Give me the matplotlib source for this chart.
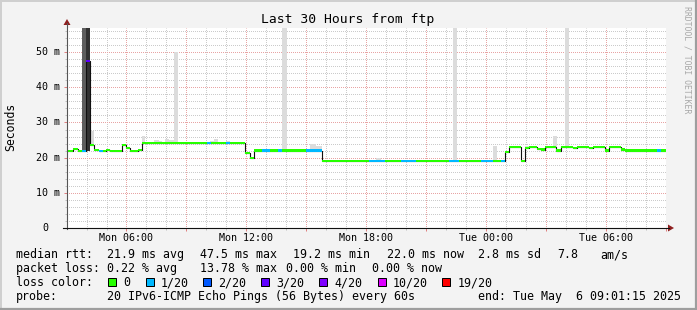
import numpy as np
import matplotlib
matplotlib.use('Agg')
import matplotlib.pyplot as plt
from matplotlib.lines import Line2D
from matplotlib.patches import Rectangle, Polygon
import matplotlib.transforms as mtrans

W, H = 697, 310
MONO = 'DejaVu Sans Mono'

# ---------------- data ----------------
# time axis: hours since Mon 00:00 (May 5 2025)
t_start = 3.0208   # Mon 03:01:15
t_end = 33.0208    # Tue 09:01:15

seg_start = [3.02, 3.32, 3.57, 3.77, 3.95, 4.15, 4.37, 4.60, 4.80, 4.97, 5.17, 5.77,
             5.97, 6.17, 6.57, 6.77, 10.02, 10.22, 10.97, 11.17, 11.95, 12.17, 12.37,
             12.77, 13.17, 13.57, 13.77, 14.97, 15.77, 18.17, 18.97, 19.77, 20.52,
             22.17, 22.67, 23.77, 24.37, 24.77, 24.97, 25.17, 25.77, 25.97, 26.17,
             26.57, 26.77, 26.97, 27.52, 27.77, 28.37, 28.57, 29.17, 29.37, 29.97,
             30.17, 30.77, 30.97, 32.57, 32.77]
seg_median = [21.8, 22.4, 21.8, 21.8, 47.5, 23.6, 22.2, 21.8, 21.8, 22.2, 21.8, 23.6,
              22.8, 21.8, 22.2, 24.2, 24.2, 24.2, 24.2, 24.2, 21.3, 19.9, 22.0,
              22.0, 22.0, 22.0, 22.0, 22.0, 19.1, 19.1, 19.1, 19.1, 19.1,
              19.1, 19.1, 19.1, 19.1, 19.1, 21.7, 23.0, 19.1, 22.8, 23.0,
              22.5, 22.3, 23.0, 22.0, 23.0, 22.7, 23.0, 22.7, 23.0, 22.0,
              23.0, 22.3, 22.0, 22.0, 22.0]
seg_loss = [0, 0, 0, 1, 3, 0, 0, 1, 0, 0, 0, 0,
            0, 0, 0, 0, 1, 0, 1, 0, 0, 0, 0,
            1, 0, 1, 0, 1, 0, 1, 0, 1, 0,
            1, 0, 1, 0, 1, 0, 0, 0, 0, 0,
            0, 0, 0, 0, 0, 0, 0, 0, 0, 0,
            0, 0, 0, 1, 0]

smoke_t0 = [3.77, 3.95, 4.15, 6.77, 7.37, 7.62, 7.92, 8.12, 8.37, 10.17, 10.37, 10.97,
            12.37, 13.77, 14.02, 15.17, 15.47, 18.52, 22.37, 24.37, 25.97, 27.37, 27.97]
smoke_t1 = [3.95, 4.15, 4.37, 6.92, 7.62, 7.77, 8.12, 8.37, 8.57, 10.37, 10.57, 11.17,
            12.77, 14.02, 14.32, 15.47, 15.77, 18.77, 22.57, 24.57, 26.17, 27.57, 28.17]
smoke_lo = [21.8, 21.8, 23.6, 24.2, 24.2, 24.2, 24.2, 24.2, 24.2, 24.2, 24.2, 24.2,
            22.0, 22.0, 22.0, 22.0, 22.0, 19.1, 19.1, 19.1, 22.8, 23.0, 23.0]
smoke_hi = [60.0, 60.0, 27.7, 26.1, 25.1, 24.8, 25.3, 25.0, 49.9, 24.8, 25.4, 24.8,
            22.5, 60.0, 22.5, 23.9, 23.4, 19.8, 60.0, 23.3, 23.3, 26.1, 60.0]
smoke_shade = ['#5e5e5e', '#323232', '#d9d9d9', '#dcdcdc', '#dcdcdc', '#dcdcdc',
               '#dcdcdc', '#dcdcdc', '#dcdcdc', '#dcdcdc', '#dcdcdc', '#dcdcdc',
               '#dcdcdc', '#dcdcdc', '#dcdcdc', '#dcdcdc', '#dcdcdc', '#dcdcdc',
               '#dcdcdc', '#dcdcdc', '#dcdcdc', '#dcdcdc', '#dcdcdc']

loss_levels = [0, 1, 2, 3, 4, 10, 19]
loss_labels = ['0', '1/20', '2/20', '3/20', '4/20', '10/20', '19/20']
loss_colors = ['#26ff00', '#00b8ff', '#0059ff', '#5e00ff', '#7e00ff', '#dd00ff', '#ff0000']

xtick_hours = [6, 12, 18, 24, 30]
xtick_labels = ['Mon 06:00', 'Mon 12:00', 'Mon 18:00', 'Tue 00:00', 'Tue 06:00']
ytick_vals = [0, 10, 20, 30, 40, 50]
ytick_labels = ['0', '10 m', '20 m', '30 m', '40 m', '50 m']

title = 'Last 30 Hours from ftp'
rtt_items = ['median rtt:', '21.9 ms avg', '47.5 ms max', '19.2 ms min', '22.0 ms now',
             '2.8 ms sd', '7.8', 'am/s']
loss_items = ['packet loss:', '0.22 % avg', '13.78 % max', '0.00 % min', '0.00 % now']
probe_items = ['probe:', '20 IPv6-ICMP Echo Pings (56 Bytes) every 60s',
               'end: Tue May  6 09:01:15 2025']

# ---------------- layout helpers ----------------
def fx(px):
    return px / W

def fy(py):
    return 1 - py / H

fig = plt.figure(figsize=(W / 100, H / 100), dpi=100, facecolor='#f3f3f3')

AX_L, AX_R, AX_T, AX_B = 67, 666, 27.5, 228
ax = fig.add_axes([fx(AX_L), fy(AX_B), (AX_R - AX_L) / W, (AX_B - AX_T) / H])
ax.set_facecolor('white')
ax.set_xlim(t_start, t_end)
ax.set_ylim(0, 57.0)
for s in ax.spines.values():
    s.set_visible(False)

# grid
ax.set_xticks(np.arange(6, 34, 3))
ax.set_xticks(np.arange(4, 34, 1), minor=True)
ax.set_yticks(np.arange(0, 60, 10))
ax.set_yticks(np.arange(0, 58, 2), minor=True)
ax.grid(which='major', color='#e8a4a4', lw=0.72, ls=(0.5, (1, 1)))
ax.grid(which='minor', color='#cbcbcb', lw=0.72, ls=(0.5, (1, 1)))
ax.set_axisbelow(True)
ax.tick_params(which='both', labelbottom=False, labelleft=False)
ax.tick_params(axis='x', which='major', direction='out', length=2.2, width=0.72, color='#e08080')
ax.tick_params(axis='x', which='minor', direction='out', length=1.5, width=0.72, color='#c0c0c0')
ax.tick_params(axis='y', which='major', direction='out', length=2.2, width=0.72, color='#e08080')
ax.tick_params(axis='y', which='minor', direction='out', length=1.5, width=0.72, color='#c0c0c0')

# smoke
for a, b, lo, hi, c in zip(smoke_t0, smoke_t1, smoke_lo, smoke_hi, smoke_shade):
    ax.fill_between([a, b], [lo, lo], [hi, hi], color=c, lw=0, zorder=2)

# median line (black step) and loss coloured bars
t_all = seg_start + [t_end]
m_all = seg_median + [seg_median[-1]]
ax.step(t_all, m_all, where='post', color='#101010', lw=0.8, zorder=3)
half = 0.33
color_of = dict(zip(loss_levels, loss_colors))
for i, (t0, m, L) in enumerate(zip(seg_start, seg_median, seg_loss)):
    t1 = t_all[i + 1]
    ax.fill_between([t0, t1], [m - half] * 2, [m + half] * 2, color=color_of[L], lw=0, zorder=4)

# axis lines & arrows
fig.add_artist(Line2D([fx(67), fx(67)], [fy(229), fy(23)], color='#555555', lw=0.8))
fig.add_artist(Line2D([fx(63), fx(669)], [fy(228), fy(228)], color='#111111', lw=0.8))
fig.add_artist(Polygon([[fx(67), fy(19)], [fx(63.5), fy(25)], [fx(70.5), fy(25)]],
                       closed=True, color='#8f1f1f', lw=0))
fig.add_artist(Polygon([[fx(674), fy(228)], [fx(668), fy(224.5)], [fx(668), fy(231.5)]],
                       closed=True, color='#8f1f1f', lw=0))

# tick labels
bx = mtrans.blended_transform_factory(ax.transData, fig.transFigure)
for h, lab in zip(xtick_hours, xtick_labels):
    fig.text(h, fy(238), lab, transform=bx, ha='center', va='center',
             family=MONO, fontsize=7.2)
by = mtrans.blended_transform_factory(fig.transFigure, ax.transData)
for v, lab in zip(ytick_vals, ytick_labels):
    xr = 48 if lab == '0' else 60
    fig.text(fx(xr), v, lab, transform=by, ha='right', va='center',
             family=MONO, fontsize=7.2)

# titles
fig.text(fx(348), fy(19.5), title, ha='center', va='center', family=MONO, fontsize=9.4)
fig.text(fx(11), fy(127), 'Seconds', rotation=90, ha='center', va='center',
         family=MONO, fontsize=8.3)
fig.text(fx(687.5), fy(60), 'RRDTOOL / TOBI OETIKER', rotation=-90, ha='center',
         va='center', family=MONO, fontsize=5.9, color='#a8a8a8')

# legend
LEG = 8.4
rtt_x = [16, 107.3, 200, 293.3, 386.7, 478.3, 557.3, 600]
for s, x in zip(rtt_items, rtt_x):
    fig.text(fx(x), fy(254.5), s, ha='left', va='center', family=MONO, fontsize=LEG)
loss_x = [16, 107.3, 200, 286, 372.3]
for s, x in zip(loss_items, loss_x):
    fig.text(fx(x), fy(268.5), s, ha='left', va='center', family=MONO, fontsize=LEG)
fig.text(fx(16), fy(282.5), 'loss color:', ha='left', va='center', family=MONO, fontsize=LEG)
box_x = [108.3, 145.7, 203.3, 261, 319.3, 377.7, 442.3]
for lab, col, x in zip(loss_labels, loss_colors, box_x):
    fig.add_artist(Rectangle((fx(x), fy(286)), 8 / W, 8 / H, transform=fig.transFigure,
                             facecolor=col, edgecolor='black', lw=0.72))
    fig.text(fx(x + 15), fy(282.5), lab, ha='left', va='center', family=MONO, fontsize=LEG)
probe_x = [16, 107.3, 478.3]
for s, x in zip(probe_items, probe_x):
    fig.text(fx(x), fy(296.5), s, ha='left', va='center', family=MONO, fontsize=LEG)

# frame shading
fig.add_artist(Line2D([0, 1], [fy(0.5), fy(0.5)], color='#cfcfcf', lw=1.4))
fig.add_artist(Line2D([fx(0.5), fx(0.5)], [0, 1], color='#cfcfcf', lw=1.4))
fig.add_artist(Line2D([0, 1], [fy(309), fy(309)], color='#9e9e9e', lw=1.6))
fig.add_artist(Line2D([fx(696), fx(696)], [0, 1], color='#9e9e9e', lw=1.6))

fig.savefig('out.png', dpi=100, facecolor=fig.get_facecolor())
